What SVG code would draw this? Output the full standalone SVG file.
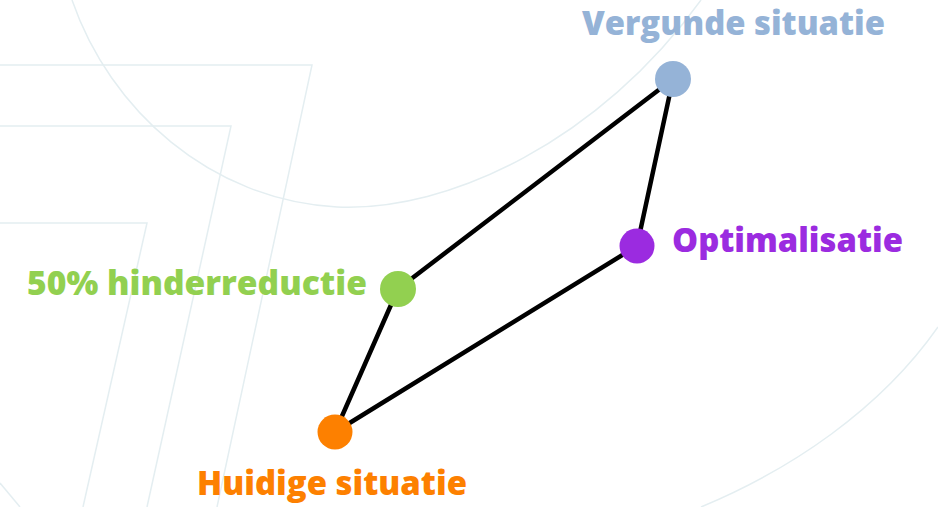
<svg xmlns="http://www.w3.org/2000/svg" width="938" height="507" viewBox="0 0 938 507">
<style>
.bg{fill:none;stroke:#e4eef1;stroke-width:1.5}
.edge{stroke:#000;stroke-width:4.5;stroke-linecap:round}
.lbl{font-family:"Open Sans","Noto Sans","Liberation Sans",sans-serif;font-weight:800;font-size:34px}
</style>
<rect width="938" height="507" fill="#fff"/>
<g id="background">
<path class="bg" d="M72,0 C110,110 210,200 337,207 C450,212 600,140 701,0"/>
<path class="bg" d="M701,507 C790,470 880,410 938,327"/>
<path class="bg" d="M0,65 L312,65 L217,507"/>
<path class="bg" d="M0,126 L231,126 L147,507"/>
<path class="bg" d="M0,223 L147,223 L83,507"/>
<path class="bg" d="M0,483 L20,507"/>
</g>
<g id="connectors">
<line class="edge" x1="335" y1="432" x2="398" y2="289"/>
<line class="edge" x1="398" y1="289" x2="673" y2="79"/>
<line class="edge" x1="673" y1="79" x2="637" y2="246"/>
<line class="edge" x1="637" y1="246" x2="335" y2="432"/>
</g>
<g id="vergunde">
<circle cx="673" cy="79" r="18" fill="#95b3d7"/>
<text class="lbl" x="582" y="35" fill="#95b3d7" textLength="303" lengthAdjust="spacingAndGlyphs">Vergunde situatie</text>
</g>
<g id="optimalisatie">
<circle cx="637" cy="246" r="17.5" fill="#9b2be0"/>
<text class="lbl" x="672" y="252" fill="#9b2be0" textLength="231" lengthAdjust="spacingAndGlyphs">Optimalisatie</text>
</g>
<g id="hinderreductie">
<circle cx="398" cy="289" r="18" fill="#92d050"/>
<text class="lbl" x="27" y="295" fill="#92d050" textLength="340" lengthAdjust="spacingAndGlyphs">50% hinderreductie</text>
</g>
<g id="huidige">
<circle cx="335" cy="432" r="17.5" fill="#fd8000"/>
<text class="lbl" x="197" y="495" fill="#fd8000" textLength="270" lengthAdjust="spacingAndGlyphs">Huidige situatie</text>
</g>
</svg>
